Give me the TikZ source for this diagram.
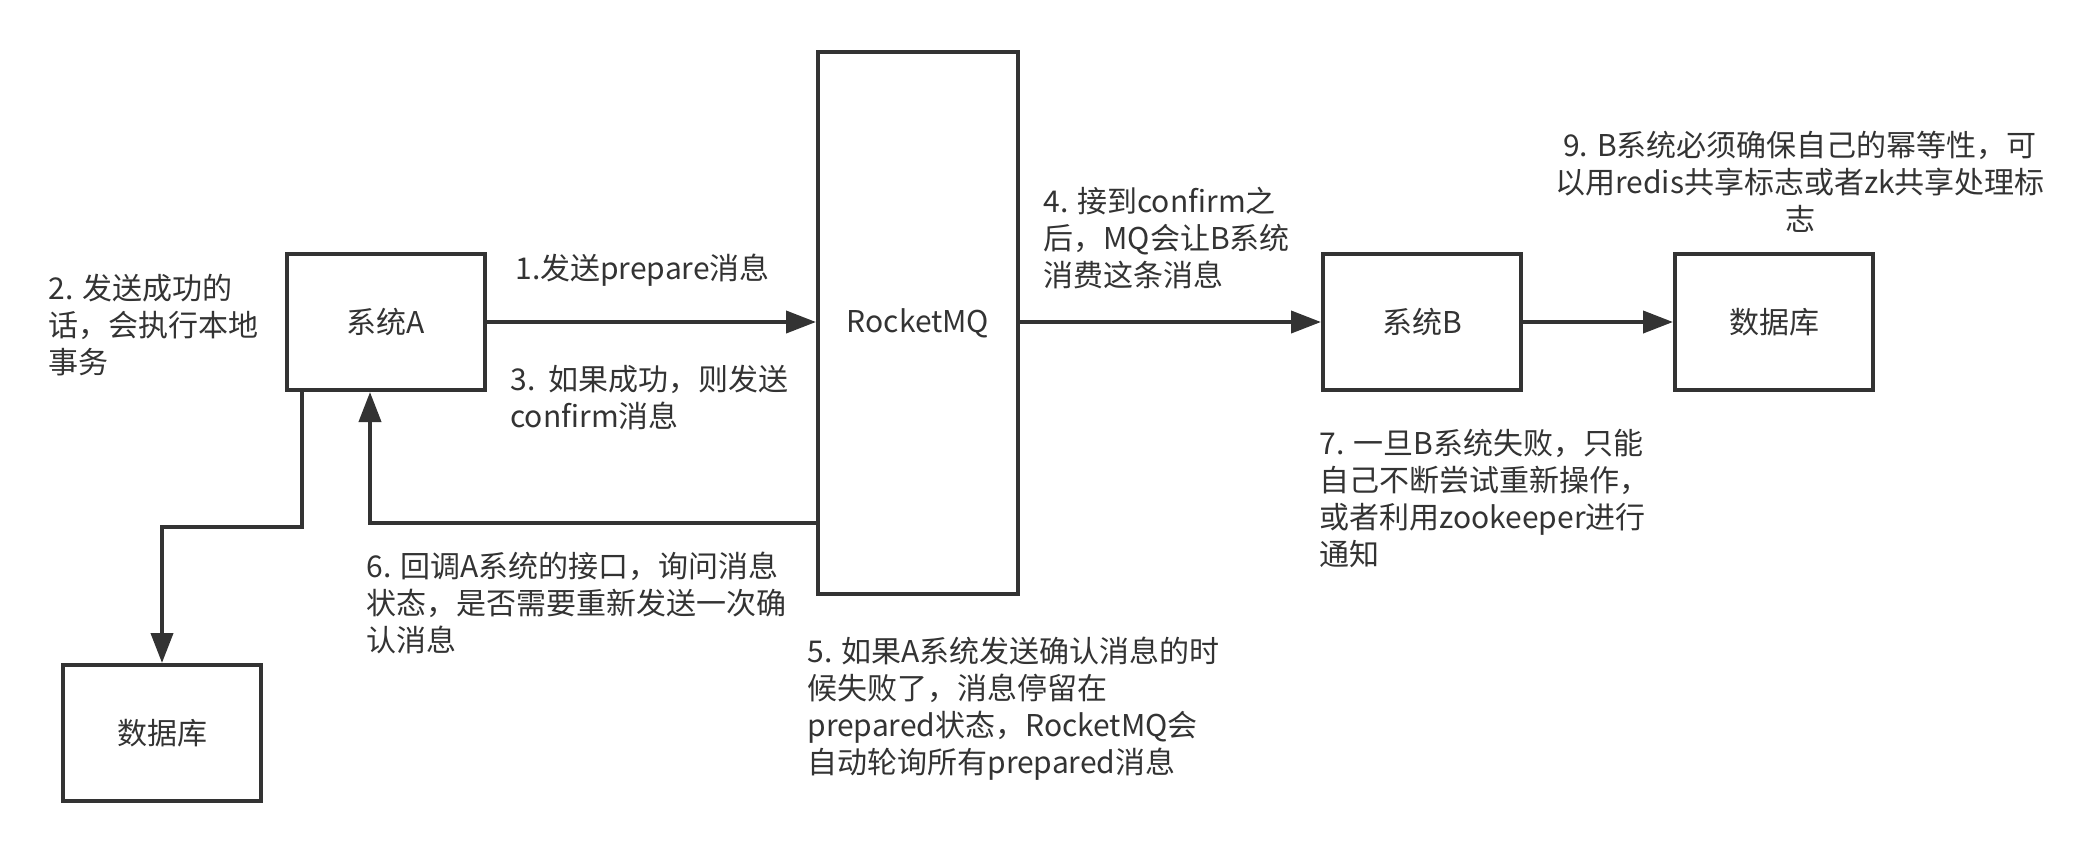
\documentclass[tikz,border=0pt]{standalone}
\usepackage{fontspec}
\setmainfont{Noto Sans CJK SC}
\usetikzlibrary{arrows.meta}
\definecolor{ink}{HTML}{333333}

\begin{document}
\begin{tikzpicture}[x=0.5pt, y=-0.5pt,
                    box/.style={draw=ink, line width=2pt, minimum width=99pt, minimum height=68pt, inner sep=0pt, text=ink},
                    flow/.style={draw=ink, line width=2pt, -{Triangle[width=11pt,length=15pt]}},
                    note/.style={align=left, anchor=north west, inner sep=0pt, text=ink}]
\fontsize{15pt}{18.5pt}\selectfont
\useasboundingbox (0,0) rectangle (2098,853);

\node[box] (sysA) at (386,322) {系统A};
\node[box, minimum width=100pt, minimum height=271pt] (mq) at (918,323) {RocketMQ};
\node[box] (sysB) at (1422,322) {系统B};
\node[box] (dbB) at (1774,322) {数据库};
\node[box] (dbA) at (162,733) {数据库};

\draw[flow] (sysA.east) -- (sysA.east -| mq.west);
\draw[flow] (mq.east |- sysB.west) -- (sysB.west);
\draw[flow] (sysB.east) -- (dbB.west);
\draw[flow] ([xshift=8.5pt]sysA.south west) -- ++(0,135) -| (dbA.north);
\draw[flow] ([yshift=-100pt]mq.west) -| ([xshift=-8pt]sysA.south);

\node[note] (n1) at (515,254) {1.发送prepare消息};
\node[note] (n2) at (48,274) {2. 发送成功的\\话，会执行本地\\事务};
\node[note] (n3) at (510,365) {3.\ \ 如果成功，则发送\\confirm消息};
\node[note] (n4) at (1043,187) {4. 接到confirm之\\后，MQ会让B系统\\消费这条消息};
\node[note] (n5) at (807,637) {5. 如果A系统发送确认消息的时\\候失败了，消息停留在\\prepared状态，RocketMQ会\\自动轮询所有prepared消息};
\node[note] (n6) at (366,552) {6. 回调A系统的接口，询问消息\\状态，是否需要重新发送一次确\\认消息};
\node[note] (n7) at (1319,429) {7. 一旦B系统失败，只能\\自己不断尝试重新操作，\\或者利用zookeeper进行\\通知};
\node[note, align=center, anchor=north] (n9) at (1800,131) {9. B系统必须确保自己的幂等性，可\\以用redis共享标志或者zk共享处理标\\志};
\end{tikzpicture}
\end{document}
